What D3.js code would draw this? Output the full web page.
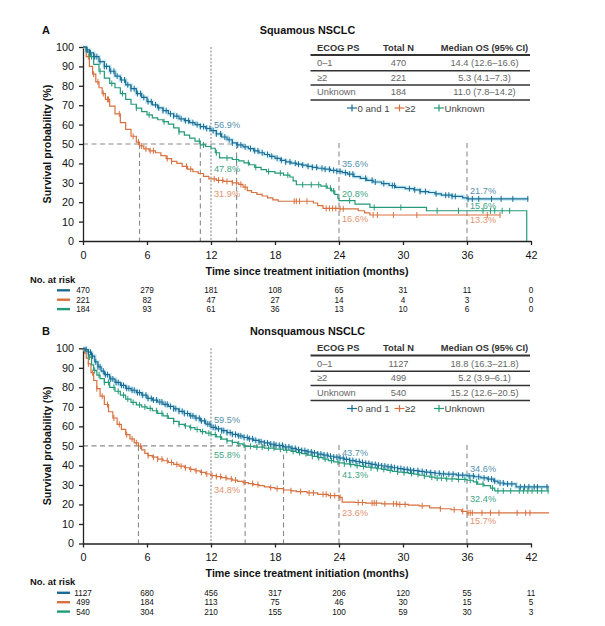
<!DOCTYPE html>
<html><head><meta charset="utf-8">
<script src="https://cdn.jsdelivr.net/npm/d3@7"></script>
<style>
body{margin:0;background:#fff;}
svg{font-family:"Liberation Sans",Arial,sans-serif;}
</style></head><body>
<svg id="chart" width="605" height="626"></svg>
<script>
// ---------------- DATA ----------------
const timeTicks = [0,6,12,18,24,30,36,42];
const survTicks = [0,10,20,30,40,50,60,70,80,90,100];
const seriesNames = ["0 and 1","\u22652","Unknown"];
const panelLetters = ["A","B"];
const panelTitles = ["Squamous NSCLC","Nonsquamous NSCLC"];
const tableHeaders = ["ECOG PS","Total N","Median OS (95% CI)"];
const ecogLabels = ["0\u20131","\u22652","Unknown"];
const sqTotalN = [470,221,184];
const sqMedianText = ["14.4 (12.6\u201316.6)","5.3 (4.1\u20137.3)","11.0 (7.8\u201314.2)"];
const nsqTotalN = [1127,499,540];
const nsqMedianText = ["18.8 (16.3\u201321.8)","5.2 (3.9\u20136.1)","15.2 (12.6\u201320.5)"];
const sqMedians = [14.4,5.3,11.0];
const nsqMedians = [18.8,5.2,15.2];
const landmarkTimes = [12,24,36];
// landmark survival % per series (0 and 1, >=2, Unknown) at 12, 24, 36 months
const sqLandmarks = [[56.9,35.6,21.7],[31.9,16.6,13.3],[47.8,20.8,15.6]];
const nsqLandmarks = [[59.5,43.7,34.6],[34.8,23.6,15.7],[55.8,41.3,32.4]];
const sqAtRisk = [[470,279,181,108,65,31,11,0],[221,82,47,27,14,4,3,0],[184,93,61,36,13,10,6,0]];
const nsqAtRisk = [[1127,680,456,317,206,120,55,11],[499,184,113,75,46,30,15,5],[540,304,210,155,100,59,30,3]];

// Kaplan-Meier step points [months, survival %]
const sqKM0 = [[0,100],[0.3,98.5],[0.6,97],[1,95],[1.5,92.5],[2,90],[2.5,87.5],[3,85],[3.5,83],[4,80.5],[4.5,78.5],[5,76],[5.5,74],[6,71.8],[6.5,70.2],[7,68.6],[7.5,67.2],[8,65.6],[8.5,64.4],[9,63],[9.5,62],[10,61],[10.5,60],[11,59],[11.5,58],[12,56.9],[12.5,55.2],[13,53.6],[13.5,52.2],[14,50.6],[14.4,49.5],[15,48.5],[15.5,47.6],[16,46.5],[16.5,45.5],[17,44.6],[17.5,43.6],[18,42.6],[18.5,41.6],[19,40.8],[19.5,40.1],[20,39.6],[20.5,39.1],[21,38.5],[21.5,38],[22,37.5],[22.6,37],[23.2,36.4],[23.8,35.9],[24.3,35.2],[24.8,34.5],[25.4,33.2],[26,32.3],[26.6,31.3],[27.2,30.4],[28,29.6],[28.7,28.6],[29.3,27.6],[30.2,27],[31,26.4],[31.6,25.5],[32.4,25],[33,24.3],[33.6,23.6],[34.6,23],[35.6,22.2],[36,21.7],[41.75,21.7]];
const sqKM1 = [[0,100],[0.3,95],[0.6,90],[0.9,86],[1.2,82],[1.5,79],[1.8,76],[2.1,73],[2.5,69.5],[3,65.5],[3.5,61],[4,57.5],[4.5,54],[5,51],[5.3,49],[5.7,47.5],[6.2,46.5],[6.8,45.5],[7.3,44],[7.8,42.5],[8.3,41],[8.8,40],[9.3,38.5],[9.8,37],[10.3,35.7],[10.8,34.8],[11.3,33.3],[11.8,32],[12.5,31.3],[13.2,30.7],[14,30],[14.6,29.2],[15,27.8],[15.4,26],[15.8,25],[16.3,24],[16.8,23.2],[17.3,22.2],[17.8,21.2],[18.3,20.5],[21.6,19.6],[22,18.2],[22.5,16.8],[24,16.6],[25.8,15.6],[26.4,14.5],[26.9,13.4],[39.1,13.4]];
const sqKM2 = [[0,100],[0.3,97.5],[0.6,95],[1,91],[1.5,87.5],[2,84],[2.5,81.2],[3,79],[3.5,76],[4,73],[4.5,70.5],[5,68.5],[5.5,66.7],[6,65],[6.5,63.5],[7,62.5],[7.5,61.5],[8,60.2],[8.5,58.3],[9,56.3],[9.5,54.6],[10,53],[10.5,51.5],[11,49.5],[11.5,48.7],[12,47.8],[12.4,45.5],[12.8,42.8],[14,42],[14.6,41.3],[15.1,40.3],[15.6,39.3],[16.1,38],[16.7,36.8],[17.2,35.8],[18,35],[18.8,34],[19.4,33],[19.7,31],[20,29],[22.3,28.3],[22.9,27.2],[23.3,25.8],[23.6,24],[23.9,21.8],[24,20.8],[25.5,19],[26.9,17.3],[32.2,15.6],[41.6,15.6],[41.6,0]];
const nsqKM0 = [[0,100],[0.2,99.3],[0.5,98],[0.8,96],[1.1,93],[1.4,90.5],[1.7,88.3],[2,86.5],[2.5,84.3],[3,82.5],[3.5,81],[4,79.5],[4.5,78.5],[5,77.3],[5.5,76],[6,74.3],[6.5,73.5],[7,72.5],[7.5,71.3],[8,70.2],[8.5,69],[9,67.7],[9.5,66.6],[10,65.4],[10.5,64.2],[11,62.8],[11.5,61.2],[12,59.5],[12.5,58.7],[13,57.8],[13.5,56.8],[14,55.9],[14.5,55.1],[15,54.3],[15.5,53.6],[16,52.8],[16.5,52.1],[17,51.5],[17.5,50.9],[18,50.3],[18.8,49.5],[19.5,48.7],[20,48.1],[20.5,47.6],[21,46.9],[21.5,46.4],[22,45.8],[22.5,45.3],[23,44.7],[23.5,44.2],[24,43.7],[24.5,43.1],[25,42.5],[25.5,42],[26,41.5],[26.5,41],[27,40.5],[27.5,40.1],[28,39.7],[28.5,39.3],[29,38.8],[29.5,38.4],[30,38],[30.5,37.6],[31,37.3],[31.5,36.9],[32,36.6],[32.5,36.3],[33,36],[33.5,35.7],[34,35.5],[35,35],[36,34.6],[36.7,34.2],[37.3,33.6],[37.9,33],[38.5,32],[38.9,31],[39.5,30.5],[40.6,29],[43.7,29]];
const nsqKM1 = [[0,100],[0.15,97.5],[0.3,95],[0.5,92],[0.75,87.5],[1,83.5],[1.3,79.3],[1.6,75.5],[2,71.2],[2.4,67.5],[2.8,64.3],[3.2,61],[3.6,58.5],[4,55.8],[4.4,53.6],[4.8,51.6],[5.2,49.9],[5.5,48],[5.8,46.2],[6.1,45],[6.5,44.2],[7,43.2],[7.5,42.4],[8,41.5],[8.5,40.5],[9,39.6],[9.5,38.8],[10,38],[10.5,37.2],[11,36.4],[11.5,35.6],[12,34.8],[12.5,34.3],[13,33.7],[13.5,33.1],[14,32.5],[14.5,31.8],[15,31.2],[15.5,30.7],[16,30.2],[16.5,29.6],[17,29],[17.5,28.6],[18,28.1],[18.8,27.4],[19.5,27],[20,26.6],[21,25.9],[22,25.2],[23,24.5],[24,23.6],[24.3,21.2],[25.5,21],[26.5,20.7],[28,20.3],[29.5,20],[30.5,19.7],[31.5,19.3],[32.5,18.3],[33.5,17.8],[34.5,17.3],[35.5,16.5],[36,15.7],[43.7,15.7]];
const nsqKM2 = [[0,100],[0.2,98.5],[0.5,95.5],[0.8,91.5],[1,88.7],[1.3,86.3],[1.6,84.5],[2,82.5],[2.5,80],[3,78],[3.5,76],[4,74],[4.5,72.3],[5,71],[5.5,70],[6,69.2],[6.5,68],[7,66.7],[7.5,65.4],[8,64.1],[8.5,62.6],[9,61],[9.5,60.2],[10,59.4],[10.5,58.4],[11,57.3],[11.5,56.5],[12,55.8],[12.5,54.6],[13,53.5],[13.5,52.6],[14,51.8],[14.5,51],[15,50.4],[15.2,49.8],[16,49.4],[17,48.9],[18,48.3],[18.8,47.8],[19.5,47.2],[20,46.6],[20.5,46],[21,45.3],[21.5,44.6],[22,44],[22.5,43.2],[23,42.5],[23.5,41.8],[24,41.3],[24.5,40.8],[25,40.4],[25.5,39.9],[26,39.5],[26.5,39.1],[27,38.7],[27.5,38.3],[28,38],[28.5,37.5],[29,37],[29.5,36.6],[30,36.3],[30.5,35.9],[31,35.5],[31.5,35],[32,34.5],[32.5,34],[33,33.5],[34,33.1],[35,32.8],[36,32.4],[36.6,31.6],[37,30.4],[37.6,29.6],[38.2,28.4],[38.6,27],[43.7,27]];

// censoring times (months)
const sqCens0 = [0.4,0.7,1.1,1.3,1.6,2.0,2.2,2.6,2.9,3.2,3.6,3.9,4.2,4.5,4.8,5.1,5.4,5.7,6.1,6.4,6.8,7.1,7.5,7.8,8.2,8.5,8.8,9.2,9.6,9.9,10.3,10.7,11.0,11.3,11.6,11.9,12.2,12.5,12.9,13.3,13.7,14.0,14.5,14.8,15.2,15.7,16.1,16.4,16.8,17.3,17.7,18.2,18.6,19.0,19.4,19.9,20.2,20.6,21.1,21.5,21.9,22.4,22.7,23.1,23.5,23.8,24.1,24.6,25.0,25.3,26.5,27.1,27.4,28.2,29.0,29.2,30.6,31.1,31.6,32.1,33.1,34.0,34.3,34.6,34.9,36.1,36.5,37.1,38.3,39.2,40.3,41.7];
const sqCens1 = [0.5,1.0,1.4,1.9,2.3,2.4,3.4,4.7,5.2,5.5,5.9,6.3,6.6,7.9,8.3,9.7,10.1,12.3,12.7,13.1,13.5,14.0,14.4,14.8,15.2,19.8,20.0,20.3,21.0,22.8,23.1,23.4,23.7,24.1,24.4,27.2,27.6,29.1,31.3,37.9,39.1];
const sqCens2 = [0.8,1.6,2.7,3.7,5.0,6.2,7.6,9.0,10.9,11.3,12.5,13.5,14.4,15.5,16.2,17.4,18.5,19.2,20.6,21.4,22.1,22.8,23.2,23.5,25.0,27.3,29.8,33.2,35.2,37.5,38.2,38.6,39.3,40.0];
const nsqCens0 = [0.3,0.5,0.7,0.9,1.2,1.4,1.6,1.9,2.1,2.3,2.6,2.8,3.1,3.3,3.6,3.8,4.1,4.3,4.6,4.8,5.1,5.3,5.6,5.9,6.1,6.4,6.6,6.9,7.2,7.4,7.7,7.9,8.2,8.5,8.7,9.0,9.3,9.5,9.8,10.1,10.3,10.6,10.9,11.1,11.4,11.7,11.9,12.2,12.4,12.7,13.0,13.2,13.5,13.8,14.0,14.3,14.6,14.8,15.1,15.4,15.6,15.9,16.2,16.5,16.7,17.0,17.3,17.6,17.9,18.1,18.4,18.7,19.0,19.3,19.6,19.9,20.2,20.5,20.8,21.1,21.4,21.7,22.0,22.3,22.6,22.9,23.2,23.5,23.8,24.1,24.4,24.7,25.0,25.3,25.6,25.9,26.2,26.5,26.8,27.1,27.4,27.7,28.0,28.3,28.6,28.9,29.2,29.5,29.8,30.1,30.4,30.7,31.0,31.4,31.8,32.2,32.6,33.0,33.4,33.8,34.3,34.7,35.2,35.6,36.2,36.6,37.1,37.6,38.0,38.3,38.6,39.1,39.4,39.8,40.2,41.0,41.4,41.8,42.3,42.6,43.5];
const nsqCens1 = [0.5,0.9,1.3,1.8,2.3,2.9,3.4,4.1,4.6,5.0,5.4,6.1,6.6,7.0,7.4,7.9,8.3,8.8,9.2,9.6,10.1,10.6,11.1,11.6,12.1,12.5,12.9,13.4,13.9,14.3,15.1,15.9,16.4,17.6,18.2,18.8,19.5,20.4,21.2,21.6,22.5,22.8,23.2,23.6,24.1,25.8,26.2,27.1,27.3,27.5,28.3,29.1,29.4,29.7,30.2,31.8,33.5,34.8,35.6,36.1,36.3,36.5,37.4,38.2,39.0,40.7,41.5,41.9];
const nsqCens2 = [0.6,1.1,1.5,2.0,2.4,2.9,3.3,3.8,4.2,4.7,5.3,5.8,6.3,6.9,7.4,7.9,8.5,9.0,9.6,10.1,10.7,11.2,11.8,12.4,12.9,13.5,14.0,14.6,15.1,15.7,16.3,16.8,17.4,17.9,18.5,19.1,19.7,20.3,20.9,21.5,22.1,22.7,23.3,23.9,24.5,25.1,25.7,26.3,27.0,27.6,28.2,28.8,29.5,30.1,30.8,31.4,32.0,32.7,33.2,33.6,34.1,34.6,35.2,35.8,36.3,36.9,37.5,38.4,38.9,39.4,40.1,40.9,41.3,41.7,42.1,42.6,43.0,43.6];

// ---------------- STYLE ----------------
const colors = ["#1d6c95","#d8703f","#239a78"];
const labelColors = ["#5590ad","#e2946f","#3ea585"];
const FONT = '"Liberation Sans", Arial, sans-serif';

const panels = [
  {letter:panelLetters[0], title:panelTitles[0], km:[sqKM0,sqKM1,sqKM2], cens:[sqCens0,sqCens1,sqCens2],
   totalN:sqTotalN, medText:sqMedianText, medians:sqMedians, land:sqLandmarks, atRisk:sqAtRisk,
   top:0, yTop:47, yBot:241,
   labelDy:[[-2.5,-5,-4.5],[18,13,8],[24,-3.5,-1.7]]},
  {letter:panelLetters[1], title:panelTitles[1], km:[nsqKM0,nsqKM1,nsqKM2], cens:[nsqCens0,nsqCens1,nsqCens2],
   totalN:nsqTotalN, medText:nsqMedianText, medians:nsqMedians, land:nsqLandmarks, atRisk:nsqAtRisk,
   top:300.5, yTop:348.3, yBot:543.5,
   labelDy:[[-4.7,-2.6,-4],[17.5,18.6,11],[23,15,22]]}
];

const svg = d3.select("#chart");
const x = d3.scaleLinear().domain([0,42]).range([83,531]);

function survAt(km, t){
  let v = km[0][1];
  for (const p of km){ if (p[0] <= t) v = p[1]; else break; }
  return v;
}

panels.forEach(P => {
  const y = d3.scaleLinear().domain([0,100]).range([P.yBot, P.yTop]);
  const g = svg.append("g");

  // panel letter & title
  g.append("text").attr("x",42).attr("y",P.top+34).attr("font-family",FONT)
    .attr("font-size",11).attr("font-weight","bold").attr("fill","#111").text(P.letter);
  g.append("text").attr("x",307.5).attr("y",P.top+34).attr("text-anchor","middle").attr("font-family",FONT)
    .attr("font-size",10.8).attr("font-weight","bold").attr("fill","#111").text(P.title);

  // reference lines
  const refG = g.append("g").attr("fill","none");
  refG.append("line").attr("x1",x(12)).attr("x2",x(12)).attr("y1",y(100)).attr("y2",y(0))
    .attr("stroke","#6f6f6f").attr("stroke-width",0.9).attr("stroke-dasharray","2,1.6");
  [24,36].forEach(t=>{
    refG.append("line").attr("x1",x(t)).attr("x2",x(t)).attr("y1",y(50.5)).attr("y2",y(0))
      .attr("stroke","#8a8a8a").attr("stroke-width",1.1).attr("stroke-dasharray","5,3.5");
  });
  const maxMed = d3.max(P.medians);
  refG.append("line").attr("x1",x(0)).attr("x2",x(maxMed)).attr("y1",y(50)).attr("y2",y(50))
    .attr("stroke","#8a8a8a").attr("stroke-width",1.1).attr("stroke-dasharray","5,3.5");
  P.medians.forEach(m=>{
    refG.append("line").attr("x1",x(m)).attr("x2",x(m)).attr("y1",y(50)).attr("y2",y(0))
      .attr("stroke","#8a8a8a").attr("stroke-width",1.1).attr("stroke-dasharray","5,3.5");
  });

  // axes
  const yAxis = d3.axisLeft(y).tickValues(survTicks).tickSize(4).tickPadding(5).tickSizeOuter(0);
  const xAxis = d3.axisBottom(x).tickValues(timeTicks).tickSize(4).tickPadding(6).tickSizeOuter(0);
  const ya = g.append("g").attr("transform",`translate(${x(0)},0)`).call(yAxis);
  const xa = g.append("g").attr("transform",`translate(0,${y(0)})`).call(xAxis);
  [ya,xa].forEach(a=>{
    a.selectAll("path,line").attr("stroke","#222").attr("stroke-width",1.3);
    a.selectAll("text").attr("font-family",FONT).attr("font-size",10.8).attr("fill","#111");
  });

  // axis titles
  g.append("text").attr("transform",`translate(51,${(P.yTop+P.yBot)/2}) rotate(-90)`)
    .attr("text-anchor","middle").attr("font-family",FONT).attr("font-size",10.7)
    .attr("font-weight","bold").attr("fill","#111").text("Survival probability (%)");
  g.append("text").attr("x",307).attr("y",P.yBot+33.5).attr("text-anchor","middle")
    .attr("font-family",FONT).attr("font-size",10.7).attr("font-weight","bold").attr("fill","#111")
    .text("Time since treatment initiation (months)");

  // curves
  const line = d3.line().x(d=>x(d[0])).y(d=>y(d[1])).curve(d3.curveStepAfter);
  g.append("path").datum(P.km[0]).attr("d",line).attr("fill","none")
    .attr("stroke","#a6e3ef").attr("stroke-width",4).attr("stroke-opacity",0.55);
  [1,2,0].forEach(i=>{
    const km = P.km[i];
    g.append("path").datum(km).attr("d",line).attr("fill","none")
      .attr("stroke",colors[i]).attr("stroke-width",1.2);
    g.append("g").selectAll("line").data(P.cens[i]).join("line")
      .attr("x1",t=>x(t)).attr("x2",t=>x(t))
      .attr("y1",t=>y(survAt(km,t))-3).attr("y2",t=>y(survAt(km,t))+3)
      .attr("stroke",colors[i]).attr("stroke-width",1);
  });

  // landmark labels
  [0,1,2].forEach(i=>{
    landmarkTimes.forEach((t,j)=>{
      const v = P.land[i][j];
      g.append("text").attr("x",x(t)+3).attr("y",y(v)+P.labelDy[i][j])
        .attr("font-family",FONT).attr("font-size",9.2).attr("fill",labelColors[i])
        .text(v.toFixed(1)+"%");
    });
  });

  // table
  const T = g.append("g").attr("font-family",FONT);
  const colX = [317,398.5,484.5];
  const anchors = ["start","middle","middle"];
  tableHeaders.forEach((h,k)=>{
    T.append("text").attr("x",colX[k]).attr("y",P.top+50.5).attr("text-anchor",anchors[k])
      .attr("font-size",9.3).attr("font-weight","bold").attr("fill","#333").text(h);
  });
  const rowBase = [66,80.5,95];
  const lineY = [55,70.7,85,100];
  ecogLabels.forEach((lab,r)=>{
    const cells = [lab, String(P.totalN[r]), P.medText[r]];
    cells.forEach((c,k)=>{
      T.append("text").attr("x",colX[k]).attr("y",P.top+rowBase[r]).attr("text-anchor",anchors[k])
        .attr("font-size",9.3).attr("fill","#666").text(c);
    });
  });
  lineY.forEach((ly,k)=>{
    T.append("line").attr("x1",310.5).attr("x2",530).attr("y1",P.top+ly).attr("y2",P.top+ly)
      .attr("stroke","#333").attr("stroke-width",k===0?1.8:1.5);
  });
  const legSym = [347,394.5,434];
  seriesNames.forEach((n,i)=>{
    const ly = P.top+108;
    T.append("line").attr("x1",legSym[i]).attr("x2",legSym[i]+10).attr("y1",ly).attr("y2",ly)
      .attr("stroke",colors[i]).attr("stroke-width",1.2);
    T.append("line").attr("x1",legSym[i]+5).attr("x2",legSym[i]+5).attr("y1",ly-3.5).attr("y2",ly+3.5)
      .attr("stroke",colors[i]).attr("stroke-width",1.2);
    T.append("text").attr("x",legSym[i]+10.5).attr("y",P.top+111.5).attr("font-size",9.6)
      .attr("fill","#444").text(n);
  });

  // number at risk
  const R = g.append("g").attr("font-family",FONT);
  R.append("text").attr("x",30).attr("y",P.yBot+41.5).attr("font-size",9.4).attr("font-weight","bold")
    .attr("fill","#111").text("No. at risk");
  P.atRisk.forEach((row,i)=>{
    const by = P.yBot+52.3+i*9.4;
    R.append("line").attr("x1",57).attr("x2",70).attr("y1",by-3).attr("y2",by-3)
      .attr("stroke",colors[i]).attr("stroke-width",2.4);
    R.selectAll(null).data(row).join("text")
      .attr("x",(d,k)=>x(timeTicks[k])).attr("y",by).attr("text-anchor","middle")
      .attr("font-size",8.2).attr("fill","#111").text(d=>d);
  });
});
</script>
</body></html>
